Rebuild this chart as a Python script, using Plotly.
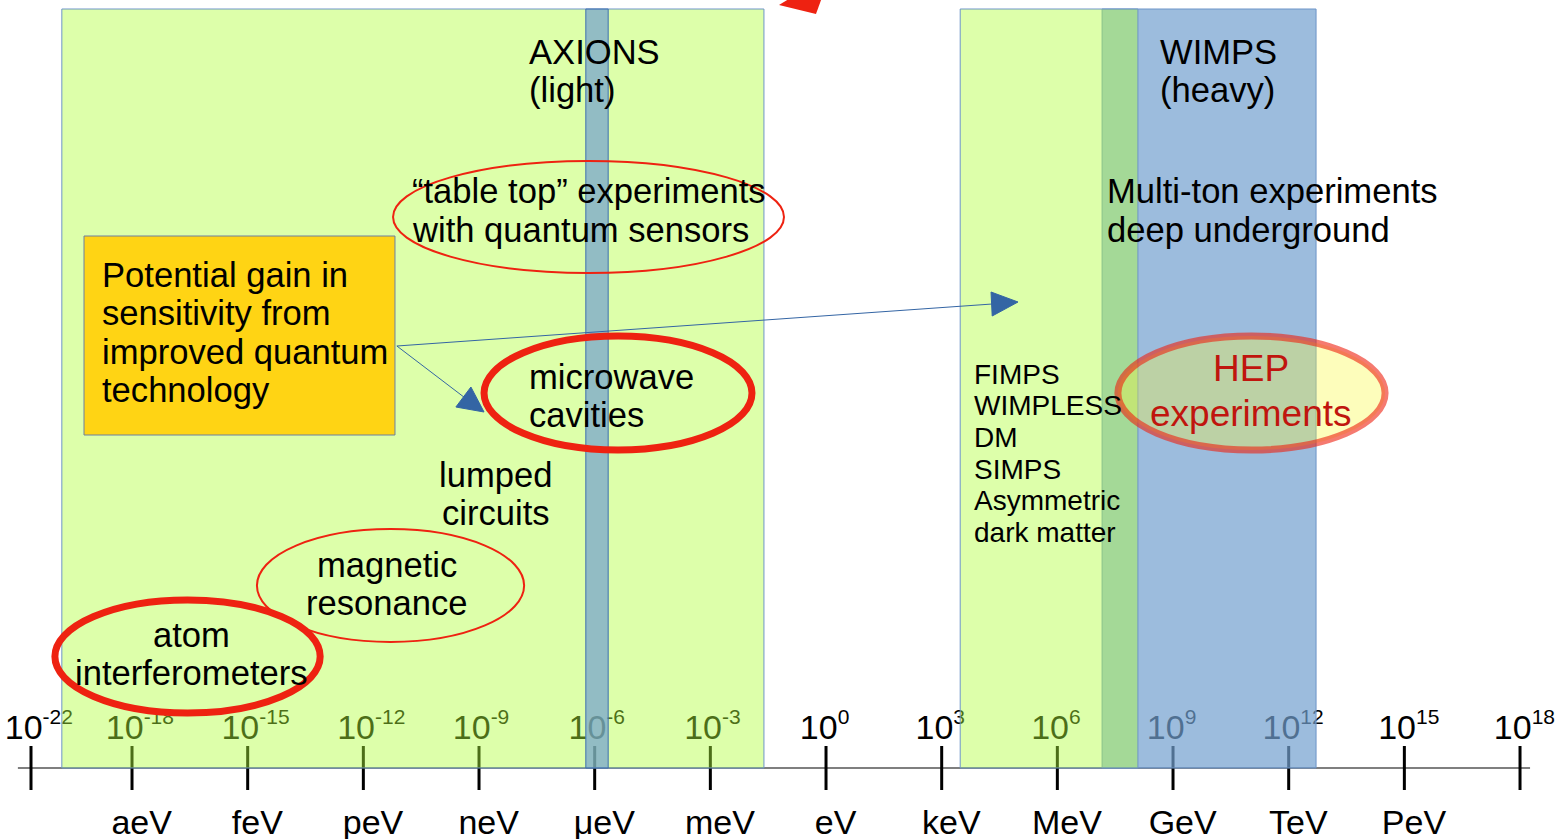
import plotly.graph_objects as go

# ---------------- data (energy in log10(eV)) ----------------
tick_exponents = [-22, -18, -15, -12, -9, -6, -3, 0, 3, 6, 9, 12, 15, 18]
tick_positions = [-20.62, -18, -15, -12, -9, -6, -3, 0, 3, 6, 9, 12, 15, 18]
unit_exponents = [-18, -15, -12, -9, -6, -3, 0, 3, 6, 9, 12, 15]
unit_labels = ["aeV", "feV", "peV", "neV", "μeV", "meV", "eV", "keV", "MeV", "GeV", "TeV", "PeV"]

axion_region = [-19.82, -1.61]
axion_cavity_band = [-6.23, -5.65]
light_dm_region = [3.48, 8.09]
wimp_region = [7.16, 12.71]
axis_extent = [-20.96, 18.26]

# ellipses: [x0, x1] in log10(eV)
tabletop_span = [-11.23, -1.09]
microwave_span = [-8.87, -1.92]
magnetic_span = [-14.76, -7.83]
atom_span = [-20.0, -13.12]
hep_span = [7.57, 14.5]
gain_box_span = [-19.245, -11.18]

FONT = "Liberation Sans, Arial, sans-serif"
XR = [-21.424, 18.985]
FS = 34.6

fig = go.Figure()

# tick labels (under the translucent bands)
tick_text = [f"10<sup><span style='font-size:21px'>{e}</span></sup>" for e in tick_exponents]
fig.add_trace(go.Scatter(
    x=[p - 0.68 for p in tick_positions], y=[730] * len(tick_positions),
    mode="text", text=tick_text, textposition="middle right",
    textfont=dict(family=FONT, size=34, color="black"),
    hoverinfo="skip", showlegend=False))
fig.add_trace(go.Scatter(
    x=[e + 0.25 for e in unit_exponents], y=[825] * len(unit_exponents),
    mode="text", text=unit_labels, textposition="middle center",
    textfont=dict(family=FONT, size=34, color="black"),
    hoverinfo="skip", showlegend=False))

shapes = []
# axis line and ticks (below)
shapes.append(dict(type="line", layer="below", xref="x", yref="y",
                   x0=axis_extent[0], x1=axis_extent[1], y0=768, y1=768,
                   line=dict(color="#7f7f7f", width=2)))
for p in tick_positions:
    shapes.append(dict(type="line", layer="below", xref="x", yref="y",
                       x0=p, x1=p, y0=746, y1=790,
                       line=dict(color="black", width=3)))

GREEN = "rgba(177,255,58,0.43)"
BLUE = "rgba(114,159,207,0.70)"

def rect(x0, x1, y0, y1, fill, line_color, lw=1):
    return dict(type="rect", layer="above", xref="x", yref="y",
                x0=x0, x1=x1, y0=y0, y1=y1, fillcolor=fill,
                line=dict(color=line_color, width=lw))

shapes.append(rect(axion_region[0], axion_region[1], 9, 768, GREEN, "#6d94c8"))
shapes.append(rect(axion_cavity_band[0], axion_cavity_band[1], 9, 768, BLUE, "#3f6fae"))
shapes.append(rect(wimp_region[0], wimp_region[1], 9, 768, BLUE, "#6d94c8"))
shapes.append(rect(light_dm_region[0], light_dm_region[1], 9, 768, GREEN, "#6d94c8"))
shapes.append(rect(gain_box_span[0], gain_box_span[1], 236, 435, "#ffd414", "#6c7fa0"))

def ellipse(span, y0, y1, color, width, fill="rgba(0,0,0,0)"):
    return dict(type="circle", layer="above", xref="x", yref="y",
                x0=span[0], x1=span[1], y0=y0, y1=y1, fillcolor=fill,
                line=dict(color=color, width=width))

RED = "#ee2211"
shapes.append(ellipse(tabletop_span, 161, 273, RED, 2))
shapes.append(ellipse(microwave_span, 336, 450, RED, 7))
shapes.append(ellipse(magnetic_span, 529, 642, RED, 2))
shapes.append(ellipse(atom_span, 600, 713, RED, 7))
shapes.append(ellipse(hep_span, 336, 450, "rgba(238,34,17,0.6)", 7,
                      fill="rgba(250,250,60,0.35)"))

# blue arrows
ARROW = "#3465a4"
shapes.append(dict(type="line", layer="above", xref="x", yref="y",
                   x0=-11.13, y0=346, x1=4.31, y1=304, line=dict(color=ARROW, width=1)))
shapes.append(dict(type="path", layer="above", xref="x", yref="y",
                   path="M 4.98 302 L 4.28 292 L 4.31 316 Z",
                   fillcolor=ARROW, line=dict(color=ARROW, width=1)))
shapes.append(dict(type="line", layer="above", xref="x", yref="y",
                   x0=-11.13, y0=346, x1=-9.36, y1=398, line=dict(color=ARROW, width=1)))
shapes.append(dict(type="path", layer="above", xref="x", yref="y",
                   path="M -8.87 412 L -9.60 407 L -9.21 387 Z",
                   fillcolor=ARROW, line=dict(color=ARROW, width=1)))
# red arrow head at top (cut off)
shapes.append(dict(type="path", layer="above", xref="x", yref="y",
                   path="M -1.22 5 L -0.88 -3 L -0.10 -3 L -0.26 14 Z",
                   fillcolor=RED, line=dict(color=RED, width=0)))

annotations = []

def text_block(lines, x, y_first, spacing, size, anchor="left", color="black"):
    for i, t in enumerate(lines):
        annotations.append(dict(x=x, y=y_first + i * spacing, xref="x", yref="y",
                                text=t, showarrow=False, xanchor=anchor, yanchor="middle",
                                font=dict(family=FONT, size=size, color=color),
                                borderpad=0))

text_block(["AXIONS", "(light)"], -7.72, 52, 38, FS)
text_block(["WIMPS", "(heavy)"], 8.64, 52, 38, FS)
text_block(["“table top” experiments", "with quantum sensors"], -10.76, 191, 39, FS)
text_block(["Multi-ton experiments", "deep underground"], 7.27, 191, 39, FS)
text_block(["Potential gain in", "sensitivity from", "improved quantum", "technology"],
           -18.8, 275, 38.3, FS)
text_block(["microwave", "cavities"], -7.72, 377, 38, FS)
text_block(["lumped", "circuits"], -8.56, 475, 38, FS, anchor="center")
text_block(["magnetic", "resonance"], -11.39, 565, 38, FS, anchor="center")
text_block(["atom", "interferometers"], -16.47, 635, 38, FS, anchor="center")
text_block(["FIMPS", "WIMPLESS", "DM", "SIMPS", "Asymmetric", "dark matter"],
           3.82, 374, 31.7, 28)
text_block(["HEP", "experiments"], 11.02, 368, 45, 37, anchor="center", color="#c0150e")

fig.update_layout(
    width=1558, height=839,
    margin=dict(l=0, r=0, t=0, b=0),
    paper_bgcolor="white", plot_bgcolor="white",
    xaxis=dict(range=XR, visible=False, fixedrange=True),
    yaxis=dict(range=[839, 0], visible=False, fixedrange=True),
    shapes=shapes, annotations=annotations, showlegend=False,
)

fig.write_html("out.html", config=dict(displayModeBar=False),
               post_script="document.body.style.margin='0px';document.body.style.overflow='hidden';")
